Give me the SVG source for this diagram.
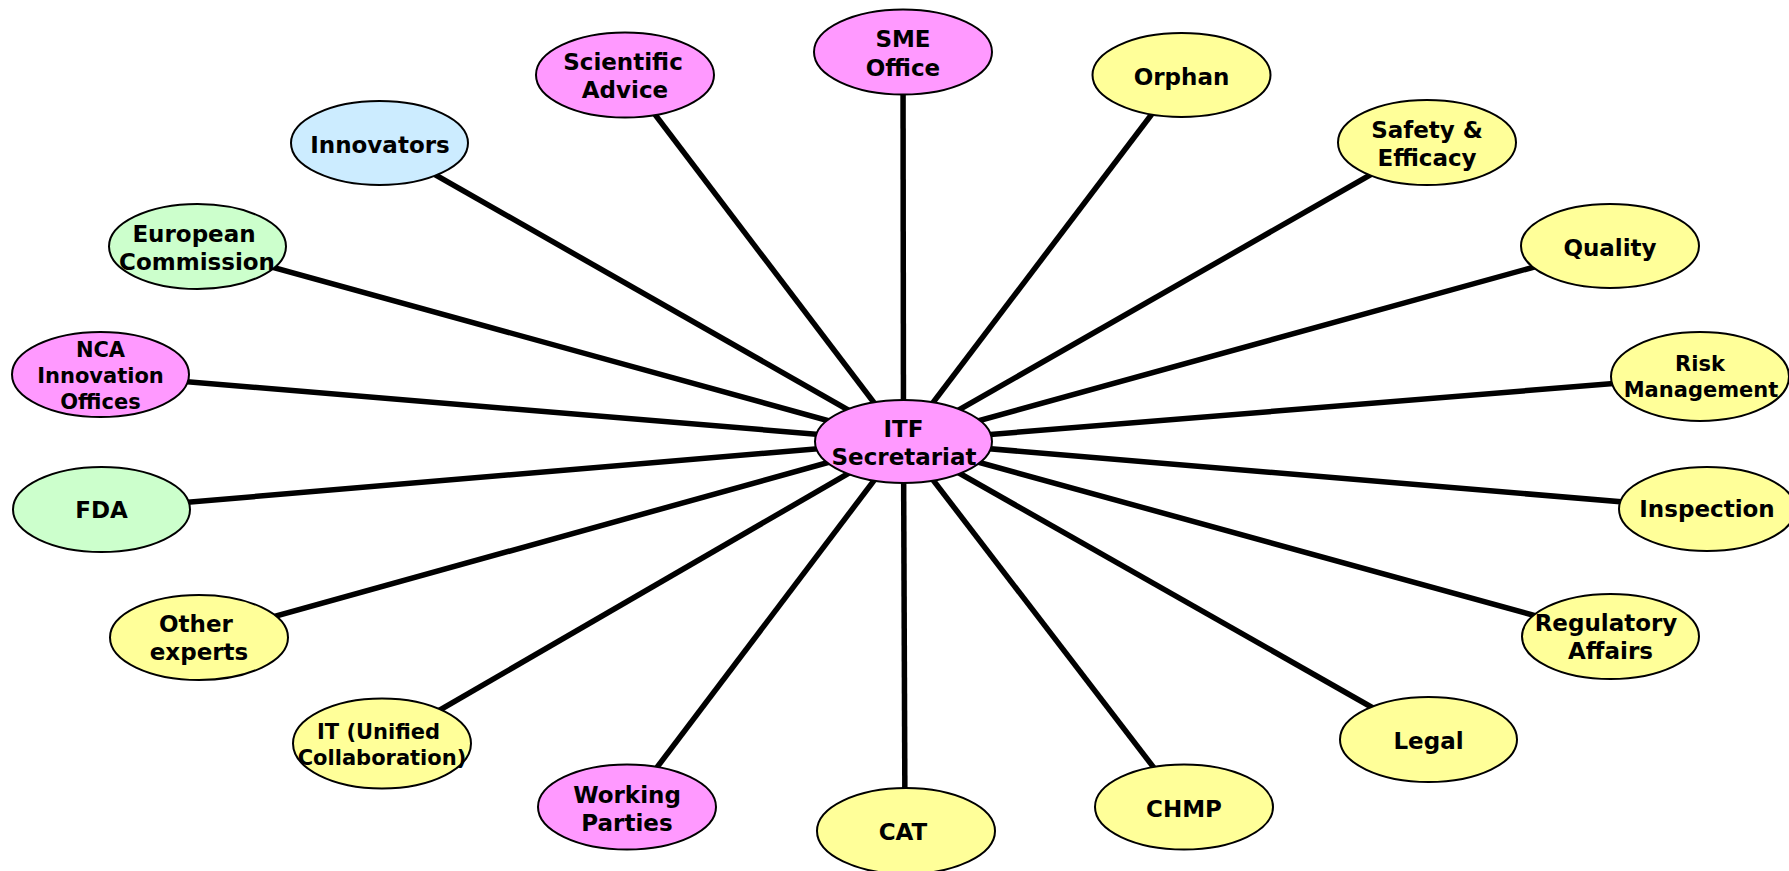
<svg xmlns="http://www.w3.org/2000/svg" width="1789" height="871" viewBox="0 0 1789 871">
<style>
.n{stroke:#000;stroke-width:2}
.pk{fill:#FF99FF}.yl{fill:#FFFF99}.bl{fill:#CCECFF}.gr{fill:#CCFFCC}
.c line{stroke:#000;stroke-width:5.5}
text{font-family:"DejaVu Sans",Verdana,sans-serif;font-weight:bold;font-size:23px;text-anchor:middle;fill:#000}
.s{font-size:21px}
</style>
<rect width="1789" height="871" fill="#fff"/>
<g id="connectors" class="c">
<line x1="903.5" y1="441.5" x2="903" y2="52"/>
<line x1="903.5" y1="441.5" x2="625" y2="75"/>
<line x1="903.5" y1="441.5" x2="379.5" y2="143"/>
<line x1="903.5" y1="441.5" x2="197.5" y2="246.5"/>
<line x1="903.5" y1="441.5" x2="100.5" y2="374.5"/>
<line x1="903.5" y1="441.5" x2="101.5" y2="509.5"/>
<line x1="903.5" y1="441.5" x2="199" y2="637.5"/>
<line x1="903.5" y1="441.5" x2="382" y2="743.5"/>
<line x1="903.5" y1="441.5" x2="627" y2="807"/>
<line x1="903.5" y1="441.5" x2="905" y2="831"/>
<line x1="903.5" y1="441.5" x2="1184" y2="807"/>
<line x1="903.5" y1="441.5" x2="1428.5" y2="739.5"/>
<line x1="903.5" y1="441.5" x2="1610.5" y2="636.5"/>
<line x1="903.5" y1="441.5" x2="1707" y2="509"/>
<line x1="903.5" y1="441.5" x2="1700" y2="376.5"/>
<line x1="903.5" y1="441.5" x2="1610" y2="246"/>
<line x1="903.5" y1="441.5" x2="1427" y2="142.5"/>
<line x1="903.5" y1="441.5" x2="1181.5" y2="75"/>
</g>
<g id="itf"><ellipse class="n pk" cx="903.5" cy="441.5" rx="88.5" ry="41.5"/><text x="903.5" y="437">ITF</text><text x="904" y="465">Secretariat</text></g>
<g id="sme"><ellipse class="n pk" cx="903" cy="52" rx="89" ry="42.5"/><text x="903" y="47">SME</text><text x="903" y="76">Office</text></g>
<g id="scientific"><ellipse class="n pk" cx="625" cy="75" rx="89" ry="42.5"/><text x="623" y="70">Scientific</text><text x="625" y="98">Advice</text></g>
<g id="innovators"><ellipse class="n bl" cx="379.5" cy="143" rx="88.5" ry="42"/><text x="380" y="153">Innovators</text></g>
<g id="ec"><ellipse class="n gr" cx="197.5" cy="246.5" rx="88.5" ry="42.5"/><text x="194" y="242">European</text><text x="197" y="270">Commission</text></g>
<g id="nca"><ellipse class="n pk" cx="100.5" cy="374.5" rx="88.5" ry="42.5"/><text class="s" x="100.5" y="357">NCA</text><text class="s" x="100.5" y="383">Innovation</text><text class="s" x="100.5" y="409">Offices</text></g>
<g id="fda"><ellipse class="n gr" cx="101.5" cy="509.5" rx="88.5" ry="42.5"/><text x="101.5" y="518">FDA</text></g>
<g id="other"><ellipse class="n yl" cx="199" cy="637.5" rx="89" ry="42.5"/><text x="196" y="632">Other</text><text x="199" y="660">experts</text></g>
<g id="it"><ellipse class="n yl" cx="382" cy="743.5" rx="89" ry="45"/><text class="s" x="378.5" y="739">IT (Unified</text><text class="s" x="382" y="765">Collaboration)</text></g>
<g id="wp"><ellipse class="n pk" cx="627" cy="807" rx="89" ry="42.5"/><text x="627" y="803">Working</text><text x="627" y="831">Parties</text></g>
<g id="cat"><ellipse class="n yl" cx="906" cy="831" rx="89" ry="43"/><text x="903" y="840">CAT</text></g>
<g id="chmp"><ellipse class="n yl" cx="1184" cy="807" rx="89" ry="42.5"/><text x="1184" y="817">CHMP</text></g>
<g id="legal"><ellipse class="n yl" cx="1428.5" cy="739.5" rx="88.5" ry="42.5"/><text x="1428.5" y="749">Legal</text></g>
<g id="regulatory"><ellipse class="n yl" cx="1610.5" cy="636.5" rx="88.5" ry="42.5"/><text x="1606" y="631">Regulatory</text><text x="1610.5" y="659">Affairs</text></g>
<g id="inspection"><ellipse class="n yl" cx="1707" cy="509" rx="88" ry="42"/><text x="1707" y="517">Inspection</text></g>
<g id="risk"><ellipse class="n yl" cx="1700" cy="376.5" rx="89" ry="44.5"/><text class="s" x="1700" y="371">Risk</text><text class="s" x="1701" y="397">Management</text></g>
<g id="quality"><ellipse class="n yl" cx="1610" cy="246" rx="89" ry="42"/><text x="1610" y="256">Quality</text></g>
<g id="safety"><ellipse class="n yl" cx="1427" cy="142.5" rx="89" ry="42.5"/><text x="1427" y="138">Safety &amp;</text><text x="1427" y="166">Efficacy</text></g>
<g id="orphan"><ellipse class="n yl" cx="1181.5" cy="75" rx="89" ry="42"/><text x="1181.5" y="85">Orphan</text></g>
</svg>
